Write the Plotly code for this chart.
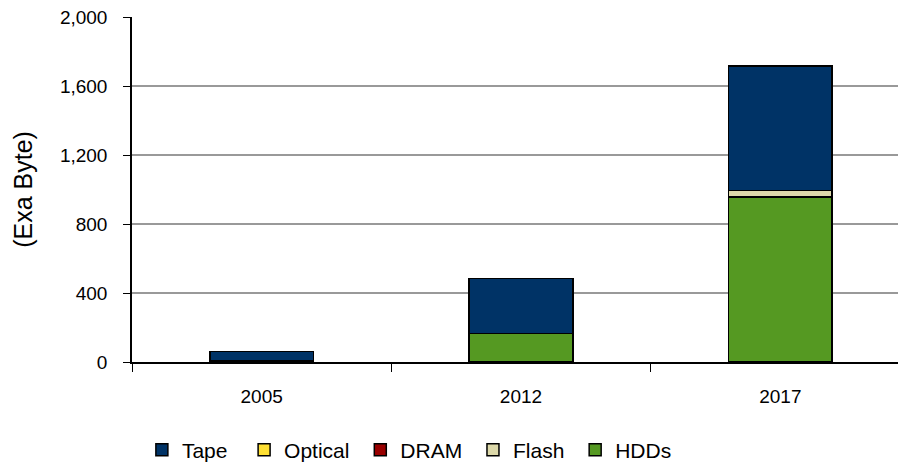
import plotly.graph_objects as go

years = ["2005", "2012", "2017"]
hdds = [10, 165, 958]
flash = [0, 0, 35]
dram = [0, 0, 0]
optical = [0, 0, 0]
tape = [50, 320, 723]

series = [
    ("HDDs", hdds, "#559922", 0),
    ("Flash", flash, "#DDD9AA", 1),
    ("DRAM", dram, "#990000", 1),
    ("Optical", optical, "#FFE033", 1),
    ("Tape", tape, "#003366", 2),
]

fig = go.Figure()
for name, vals, col, npad in series:
    fig.add_trace(go.Bar(x=years, y=vals, name=name + "\u00a0" * npad,
                         marker=dict(color=col, line=dict(color="black", width=1.5)), width=0.4))

fig.update_layout(
    barmode="stack",
    width=915, height=466,
    margin=dict(l=132, r=5, t=17, b=104, autoexpand=False),
    plot_bgcolor="white", paper_bgcolor="white",
    font=dict(family="Liberation Sans, Arial, sans-serif", size=19, color="black"),
    legend=dict(orientation="h", traceorder="reversed", x=0.0127, xanchor="left",
                yref="container", y=0.034, yanchor="middle",
                font=dict(size=21), itemwidth=30),
    showlegend=True,
)
fig.update_yaxes(range=[0, 2000], tickvals=[0, 400, 800, 1200, 1600, 2000], tickformat=",",
                 showgrid=True, gridcolor="#999999", gridwidth=1.5,
                 showline=True, linecolor="black", linewidth=1.5,
                 ticks="outside", ticklen=7, tickcolor="black", ticklabelstandoff=12,
                 tickfont=dict(size=19),
                 title=dict(text="(Exa Byte)", font=dict(size=25), standoff=20), zeroline=False)
fig.update_xaxes(showline=True, linecolor="black", linewidth=1.5, ticks="outside", tickson="boundaries",
                 ticklen=8, tickcolor="black", ticklabelstandoff=16, tickfont=dict(size=19))

fig.write_html("out.html", config={"displayModeBar": False},
               post_script="document.body.style.margin='0';document.body.style.overflow='hidden';")
